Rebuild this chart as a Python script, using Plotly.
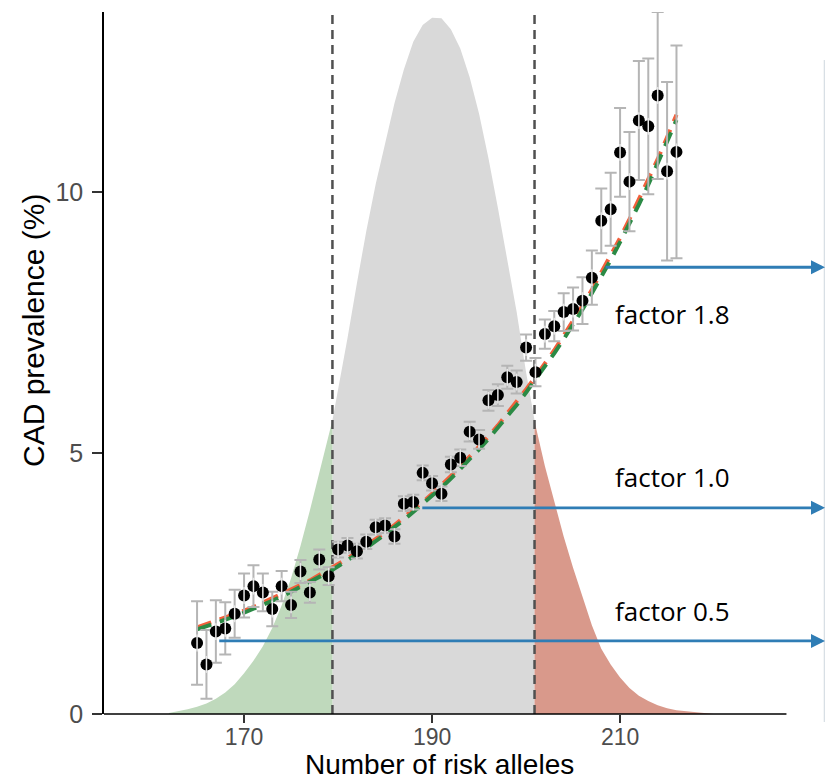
import plotly.graph_objects as go

# ---------------- data ----------------
risk_alleles = list(range(165, 217))
prevalence = [1.36, 0.95, 1.58, 1.64, 1.92, 2.27, 2.45, 2.33, 2.01, 2.45,
              2.09, 2.73, 2.33, 2.96, 2.64, 3.15, 3.23, 3.12, 3.30, 3.58,
              3.61, 3.40, 4.03, 4.06, 4.62, 4.42, 4.22, 4.78, 4.91, 5.41,
              5.26, 6.01, 6.11, 6.45, 6.36, 7.02, 6.55, 7.28, 7.43, 7.70,
              7.76, 7.92, 8.36, 9.45, 9.67, 10.76, 10.20, 11.37, 11.26, 11.85,
              10.40, 10.77]
prev_err = [0.80, 0.66, 0.60, 0.50, 0.46, 0.42, 0.40, 0.36, 0.33, 0.29,
            0.25, 0.22, 0.20, 0.19, 0.17, 0.15, 0.14, 0.14, 0.14, 0.14,
            0.14, 0.14, 0.14, 0.14, 0.14, 0.14, 0.14, 0.15, 0.16, 0.19,
            0.18, 0.20, 0.21, 0.22, 0.22, 0.25, 0.27, 0.28, 0.29, 0.36,
            0.41, 0.45, 0.52, 0.62, 0.70, 0.85, 0.95, 1.14, 1.30, 1.60,
            1.71, 2.04]

fit_green = [1.62, 1.68, 1.74, 1.80, 1.87, 1.94, 2.01, 2.09, 2.17, 2.25,
             2.34, 2.43, 2.52, 2.62, 2.72, 2.83, 2.94, 3.06, 3.18, 3.31,
             3.44, 3.58, 3.72, 3.87, 4.02, 4.18, 4.34, 4.51, 4.69, 4.88,
             5.07, 5.27, 5.48, 5.70, 5.92, 6.16, 6.40, 6.65, 6.91, 7.18,
             7.46, 7.75, 8.06, 8.37, 8.70, 9.04, 9.39, 9.76, 10.14, 10.54,
             10.95, 11.38]
fit_red = [1.66, 1.72, 1.78, 1.84, 1.91, 1.98, 2.05, 2.13, 2.21, 2.29,
           2.38, 2.47, 2.56, 2.66, 2.76, 2.87, 2.98, 3.10, 3.22, 3.35,
           3.48, 3.62, 3.76, 3.91, 4.06, 4.22, 4.38, 4.56, 4.74, 4.93,
           5.12, 5.32, 5.53, 5.75, 5.98, 6.22, 6.46, 6.71, 6.97, 7.25,
           7.53, 7.82, 8.13, 8.45, 8.78, 9.12, 9.48, 9.85, 10.23, 10.63,
           11.05, 11.48]

dens_x = [162, 163, 164, 165, 166, 167, 168, 169, 170, 171, 172, 173, 174,
          175, 176, 177, 178, 179, 179.4, 180, 181, 182, 183, 184, 185, 186,
          187, 188, 189, 190, 191, 192, 193, 194, 195, 196, 197, 198, 199,
          200, 200.9, 201, 202, 203, 204, 205, 206, 207, 208, 209, 210, 211,
          212, 213, 214, 215, 216, 217, 218, 219, 220]
dens_y = [0.02, 0.05, 0.09, 0.14, 0.20, 0.29, 0.41, 0.57, 0.78, 1.02, 1.30,
          1.65, 2.08, 2.60, 3.22, 3.90, 4.60, 5.35, 5.63, 6.20, 7.20, 8.25,
          9.25, 10.15, 10.95, 11.70, 12.35, 12.88, 13.20, 13.34, 13.33, 13.12,
          12.75, 12.20, 11.50, 10.65, 9.70, 8.70, 7.70, 6.55, 5.63, 5.53,
          4.75, 4.05, 3.40, 2.80, 2.25, 1.70, 1.25, 0.95, 0.70, 0.50, 0.35,
          0.25, 0.17, 0.11, 0.07, 0.05, 0.03, 0.015, 0.0]

cut_low = 179.4
cut_high = 200.9

arrow_start = [167.2, 188.8, 208.3]
arrow_level = [1.40, 3.95, 8.56]
factor_labels = ["factor 0.5", "factor 1.0", "factor 1.8"]
label_y = [1.98, 4.55, 7.67]

x_ticks = [170, 190, 210]
y_ticks = [0, 5, 10]

# ---------------- layout constants ----------------
X_MIN, X_MAX = 155.1, 231.8
Y_MIN, Y_MAX = 0, 13.45
AXIS_END = 227.7

fig = go.Figure()

# density split
gx = [x for x in dens_x if x <= cut_low]
gy = [y for x, y in zip(dens_x, dens_y) if x <= cut_low]
mx = [x for x in dens_x if cut_low <= x <= cut_high]
my = [y for x, y in zip(dens_x, dens_y) if cut_low <= x <= cut_high]
rx = [x for x in dens_x if x >= cut_high]
ry = [y for x, y in zip(dens_x, dens_y) if x >= cut_high]

for xs, ys, col in [(mx, my, "#d9d9d9"), (gx, gy, "#bfd9bc"), (rx, ry, "#d9998b")]:
    fig.add_trace(go.Scatter(x=xs, y=ys, mode="lines", fill="tozeroy",
                             fillcolor=col, line=dict(width=0, color=col),
                             hoverinfo="skip", showlegend=False))

for c in [cut_low, cut_high]:
    fig.add_trace(go.Scatter(x=[c, c], y=[Y_MIN, Y_MAX], mode="lines",
                             line=dict(color="#505050", width=2.5, dash="9px,6px"),
                             showlegend=False, hoverinfo="skip"))

fig.add_trace(go.Scatter(x=risk_alleles, y=fit_red, mode="lines",
                         line=dict(color="#f2603c", width=4, dash="15px,9px"),
                         showlegend=False))
fig.add_trace(go.Scatter(x=risk_alleles, y=fit_green, mode="lines",
                         line=dict(color="#2b8a45", width=4, dash="15px,9px"),
                         showlegend=False))

fig.add_trace(go.Scatter(x=risk_alleles, y=prevalence, mode="markers",
                         marker=dict(color="black", size=12),
                         error_y=dict(type="data", array=prev_err, visible=True,
                                      color="#b5b5b5", thickness=2, width=6),
                         showlegend=False))
fig.add_trace(go.Scatter(x=risk_alleles, y=prevalence, mode="markers",
                         marker=dict(symbol="line-ns", size=12,
                                     line=dict(color="#e8e8e8", width=1.5)),
                         showlegend=False, hoverinfo="skip"))

annotations = []
for xs, yl in zip(arrow_start, arrow_level):
    annotations.append(dict(x=X_MAX, y=yl, ax=xs, ay=yl, xref="x", yref="y",
                            axref="x", ayref="y", text="", showarrow=True,
                            arrowhead=2, arrowsize=1.0, arrowwidth=2.8,
                            arrowcolor="#2f7db5"))
for lab, ly in zip(factor_labels, label_y):
    annotations.append(dict(x=209.2, y=ly, xref="x", yref="y", text=lab,
                            showarrow=False, xanchor="left", yanchor="middle",
                            font=dict(family="Open Sans", size=26, color="black")))

annotations.append(dict(x=-0.0985, y=0.547, xref="paper", yref="paper",
                        text="CAD prevalence (%)", textangle=-90, showarrow=False,
                        xanchor="center", yanchor="middle",
                        font=dict(family="Liberation Sans", size=30, color="black")))
annotations.append(dict(x=0.466, y=-0.0965, xref="paper", yref="paper",
                        text="Number of risk alleles", showarrow=False,
                        xanchor="center", yanchor="bottom",
                        font=dict(family="Liberation Sans", size=28, color="black")))

shapes = [
    dict(type="line", xref="paper", yref="paper", x0=0, x1=(AXIS_END - X_MIN) / (X_MAX - X_MIN),
         y0=0, y1=0, line=dict(color="black", width=1.5)),
    dict(type="line", xref="paper", yref="paper", x0=0.999, x1=0.999, y0=0.9316, y1=-0.0114,
         line=dict(color="#cdd6dd", width=1)),
]

fig.update_layout(
    width=826, height=782,
    margin=dict(l=104, r=1, t=12, b=68),
    plot_bgcolor="white", paper_bgcolor="white",
    showlegend=False,
    annotations=annotations, shapes=shapes,
    xaxis=dict(range=[X_MIN, X_MAX], tickvals=x_ticks, ticks="outside",
               ticklen=8, tickwidth=1.5, tickcolor="#333333", showline=False,
               showgrid=False, zeroline=False, ticklabelstandoff=-6,
               tickfont=dict(family="Liberation Sans", size=23, color="#4d4d4d")),
    yaxis=dict(range=[Y_MIN, Y_MAX], tickvals=y_ticks, ticks="outside",
               ticklen=10, tickwidth=1.5, tickcolor="#333333", showline=True,
               linecolor="black", linewidth=1.5, showgrid=False, zeroline=False,
               ticklabelstandoff=4,
               tickfont=dict(family="Liberation Sans", size=25, color="#4d4d4d")),
)

fig.write_html("out.html", config={"displayModeBar": False},
               post_script="document.body.style.margin='0px';")
